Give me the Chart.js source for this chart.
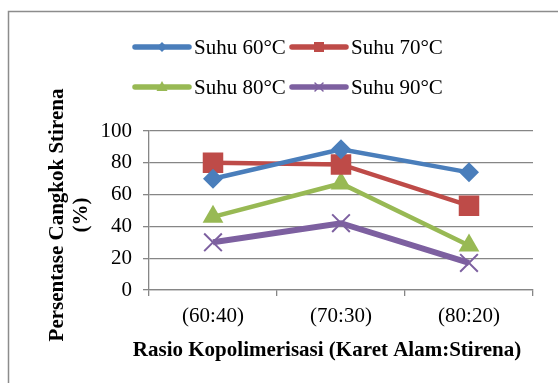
<!DOCTYPE html>
<html>
<head>
<meta charset="utf-8">
<script src="https://cdn.jsdelivr.net/npm/chart.js@4/dist/chart.umd.min.js"></script>
<style>
  html, body { margin: 0; padding: 0; background: #fff; }
  #wrap { position: relative; width: 558px; height: 383px; }
</style>
</head>
<body>
<div id="wrap"><canvas id="chart" width="558" height="383"></canvas></div>
<script>
const categories = ['(60:40)', '(70:30)', '(80:20)'];
const suhu60 = [70, 88.5, 74];
const suhu70 = [80, 79, 53];
const suhu80 = [46, 67, 28];
const suhu90 = [30, 42, 17];
const seriesNames = ['Suhu 60°C', 'Suhu 70°C', 'Suhu 80°C', 'Suhu 90°C'];
const yTicks = [0, 20, 40, 60, 80, 100];

const FONT = '"Liberation Serif", "Times New Roman", serif';
const colors = ['#4A7EBB', '#BE4B48', '#98B954', '#7D60A0'];

// small marker for the legend samples
function legendMarker(ctx, style, x, y, color) {
  ctx.save();
  ctx.fillStyle = color;
  ctx.strokeStyle = color;
  ctx.beginPath();
  if (style === 'rectRot') {
    const r = 5;
    ctx.moveTo(x, y - r); ctx.lineTo(x + r, y); ctx.lineTo(x, y + r); ctx.lineTo(x - r, y);
    ctx.closePath(); ctx.fill();
  } else if (style === 'rect') {
    ctx.rect(x - 5, y - 5, 10, 10); ctx.fill();
  } else if (style === 'triangle') {
    ctx.moveTo(x, y - 6); ctx.lineTo(x + 5.5, y + 4); ctx.lineTo(x - 5.5, y + 4);
    ctx.closePath(); ctx.fill();
  } else {
    ctx.lineWidth = 1.5;
    ctx.moveTo(x - 4, y - 4); ctx.lineTo(x + 4, y + 4);
    ctx.moveTo(x + 4, y - 4); ctx.lineTo(x - 4, y + 4);
    ctx.stroke();
  }
  ctx.restore();
}

const decorPlugin = {
  id: 'decor',
  beforeDraw(chart) {
    const ctx = chart.ctx;
    ctx.save();
    ctx.strokeStyle = '#8c8c8c';
    ctx.lineWidth = 1.5;
    ctx.strokeRect(8.5, 11.5, 700, 500);
    ctx.restore();
  },
  afterDraw(chart) {
    const ctx = chart.ctx;
    ctx.save();
    // legend, two rows of two
    const colX = [135, 292];
    const rowY = [47, 87];
    chart.data.datasets.forEach((ds, i) => {
      const x0 = colX[i % 2];
      const y = rowY[Math.floor(i / 2)];
      ctx.strokeStyle = ds.borderColor;
      ctx.lineWidth = 5.5;
      ctx.lineCap = 'round';
      ctx.beginPath();
      ctx.moveTo(x0, y);
      ctx.lineTo(x0 + 54, y);
      ctx.stroke();
      legendMarker(ctx, ds.pointStyle, x0 + 27, y, ds.borderColor);
      ctx.fillStyle = '#000';
      ctx.font = '21px ' + FONT;
      ctx.textBaseline = 'middle';
      ctx.textAlign = 'left';
      ctx.fillText(ds.label, x0 + 59, y + 1);
    });

    // y axis title, two lines
    ctx.font = 'bold 21px ' + FONT;
    ctx.textAlign = 'center';
    ctx.textBaseline = 'middle';
    ctx.translate(0, 215);
    ctx.rotate(-Math.PI / 2);
    ctx.fillText('Persentase Cangkok Stirena', 0, 58);
    ctx.fillText('(%)', 0, 82);
    ctx.restore();

    // x axis title
    ctx.save();
    ctx.font = 'bold 21px ' + FONT;
    ctx.fillStyle = '#000';
    ctx.textAlign = 'center';
    ctx.textBaseline = 'middle';
    ctx.fillText('Rasio Kopolimerisasi (Karet Alam:Stirena)', 327, 351);
    ctx.restore();
  }
};

const pointStyles = ['rectRot', 'rect', 'triangle', 'crossRot'];
const pointRadii = [10, 14.5, 12, 12.5];
const lineWidths = [4.5, 4.5, 4.5, 6];
const values = [suhu60, suhu70, suhu80, suhu90];

const datasets = values.map((data, i) => ({
  label: seriesNames[i],
  data,
  borderColor: colors[i],
  backgroundColor: colors[i],
  borderWidth: lineWidths[i],
  pointStyle: pointStyles[i],
  pointRadius: pointRadii[i],
  pointHoverRadius: pointRadii[i],
  pointBackgroundColor: colors[i],
  pointBorderColor: colors[i],
  pointBorderWidth: i === 3 ? 2 : 0,
  tension: 0
}));

new Chart(document.getElementById('chart'), {
  type: 'line',
  data: { labels: categories, datasets },
  plugins: [decorPlugin],
  options: {
    responsive: false,
    animation: false,
    layout: { padding: { left: 0, right: 25, top: 131, bottom: 0 } },
    plugins: { legend: { display: false }, tooltip: { enabled: false } },
    scales: {
      x: {
        type: 'category',
        offset: true,
        grid: { display: true, drawOnChartArea: false, drawTicks: true, tickLength: 6, offset: true, color: '#868686', lineWidth: 1.3 },
        border: { color: '#868686', width: 1.3 },
        ticks: { color: '#000', font: { family: FONT, size: 21 }, padding: 8, maxRotation: 0 },
        afterFit: s => { s.height = 93; }
      },
      y: {
        min: 0,
        max: 100,
        afterBuildTicks: s => { s.ticks = yTicks.map(v => ({ value: v })); },
        grid: { color: '#868686', lineWidth: 1.3, tickLength: 6 },
        border: { color: '#868686', width: 1.3 },
        ticks: { color: '#000', font: { family: FONT, size: 21 }, padding: 11 },
        afterFit: s => { s.width = 149; }
      }
    }
  }
});
</script>
</body>
</html>
